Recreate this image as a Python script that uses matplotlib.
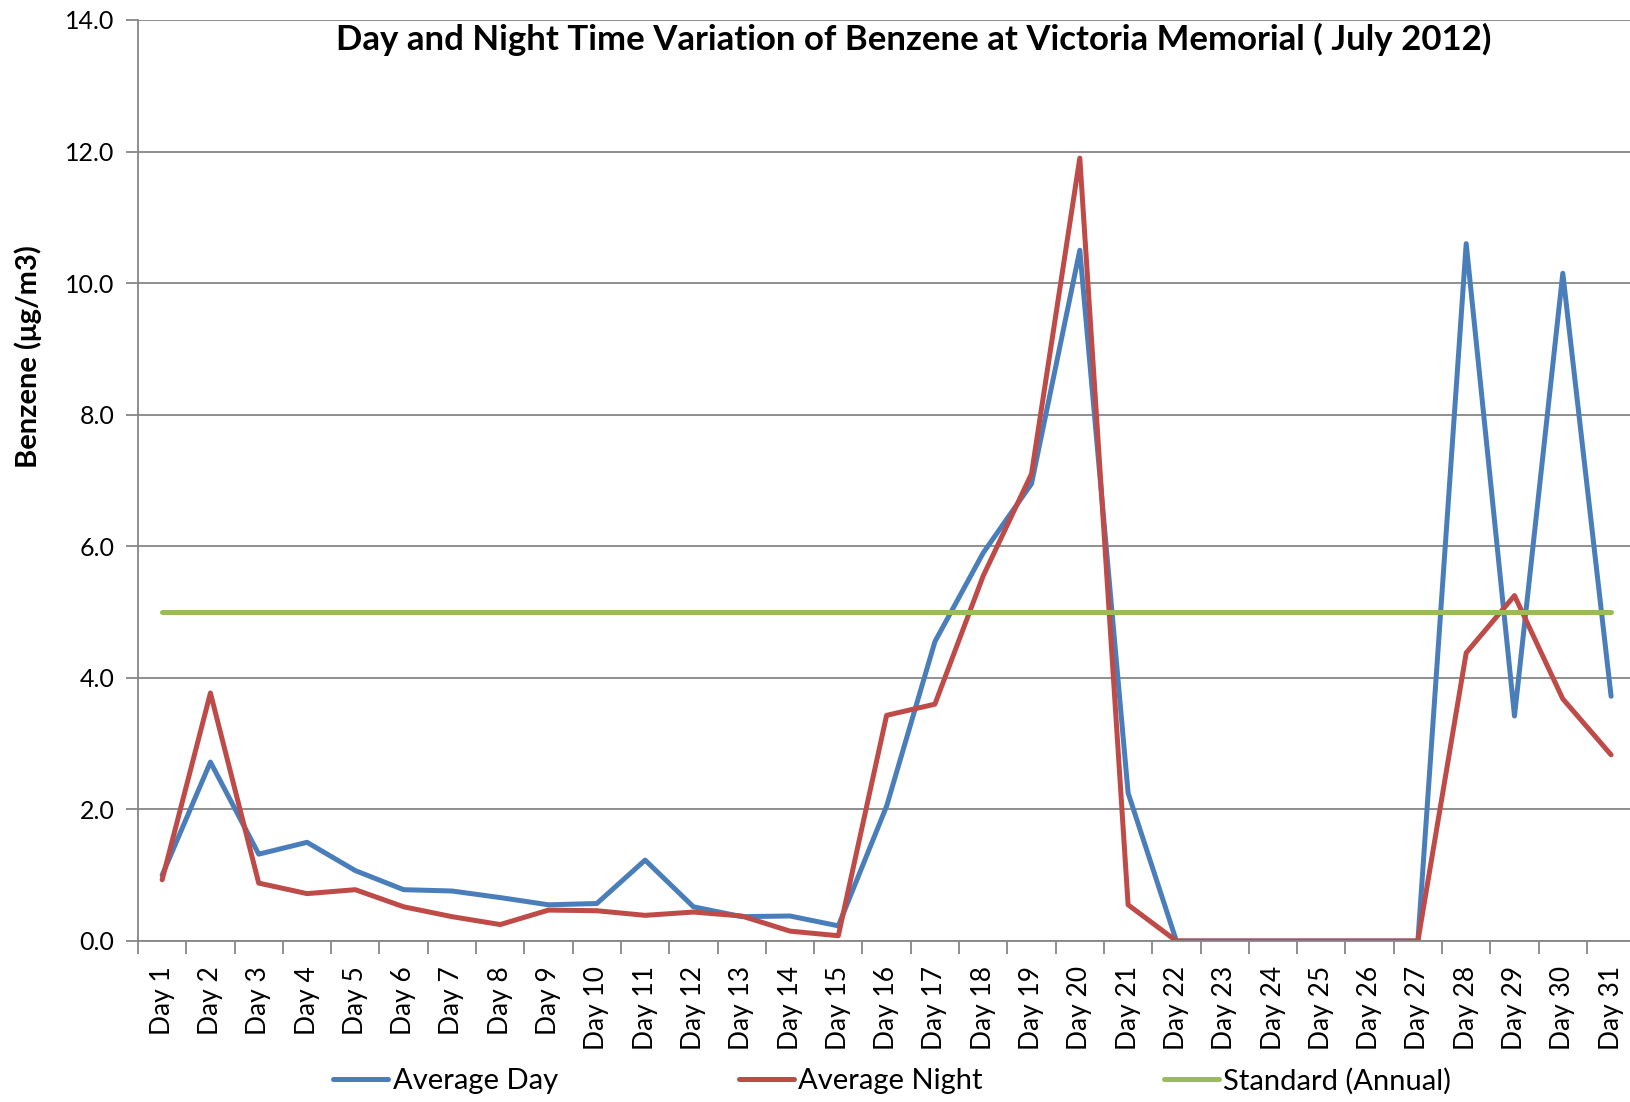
import numpy as np
import matplotlib.pyplot as plt

plt.rcParams['font.family'] = ['Lato', 'DejaVu Sans']

days = ['Day ' + str(i) for i in range(1, 32)]

avg_day = [1.0, 2.72, 1.32, 1.5, 1.07, 0.78, 0.76, 0.66, 0.55, 0.57,
           1.23, 0.52, 0.37, 0.38, 0.23, 2.05, 4.55, 5.9, 6.95, 10.5,
           2.25, 0.0, 0.0, 0.0, 0.0, 0.0, 0.0, 10.6, 3.42, 10.15, 3.72]
avg_night = [0.93, 3.77, 0.88, 0.72, 0.78, 0.52, 0.37, 0.25, 0.47, 0.46,
             0.39, 0.44, 0.38, 0.15, 0.08, 3.43, 3.6, 5.55, 7.1, 11.9,
             0.55, 0.0, 0.0, 0.0, 0.0, 0.0, 0.0, 4.38, 5.25, 3.68, 2.83]
standard = [5.0] * 31

fig = plt.figure(figsize=(16.31, 11.02), dpi=100)
ax = fig.add_axes([0.0846, 0.1461, 0.918, 0.8358])

x = np.arange(len(days))
ax.plot(x, avg_day, color='#4A7EBB', lw=3.6, label='Average Day', solid_capstyle='round')
ax.plot(x, avg_night, color='#BE4B48', lw=3.6, label='Average Night', solid_capstyle='round')
ax.plot(x, standard, color='#9BBB59', lw=3.6, label='Standard (Annual)', solid_capstyle='round')

ax.set_xlim(-0.5, 30.5)
ax.set_ylim(0, 14)
ax.set_yticks(np.arange(0, 14.1, 2))
ax.set_yticklabels(['%.1f' % v for v in np.arange(0, 14.1, 2)], fontsize=18)
ax.yaxis.grid(True, color='#868686', lw=1.3)
ax.set_axisbelow(True)

ax.set_xticks(x)
ax.set_xticklabels(days, rotation=90, fontsize=19)
ax.tick_params(axis='x', which='major', length=0, pad=18)
ax.set_xticks(np.arange(-0.5, 31, 1), minor=True)
ax.tick_params(axis='x', which='minor', length=9, color='#868686', width=1.3)
ax.tick_params(axis='y', length=9, color='#868686', width=1.3, pad=8)

for s in ['top', 'right']:
    ax.spines[s].set_visible(False)
for s in ['left', 'bottom']:
    ax.spines[s].set_color('#868686')
    ax.spines[s].set_linewidth(1.3)

fig.text(0.017, 0.676, 'Benzene (\u03bcg/m3)', rotation=90, fontsize=21,
         fontweight='bold', ha='center', va='center')
fig.text(0.56, 0.964, 'Day and Night Time Variation of Benzene at Victoria Memorial ( July 2012)',
         fontsize=25, fontweight='bold', ha='center', va='center')

fig.legend(loc='center', bbox_to_anchor=(0.547, 0.019), ncol=3, frameon=False,
           fontsize=21, handlelength=1.9, handletextpad=0.15, columnspacing=6.2)

fig.savefig('out.png', dpi=100)
